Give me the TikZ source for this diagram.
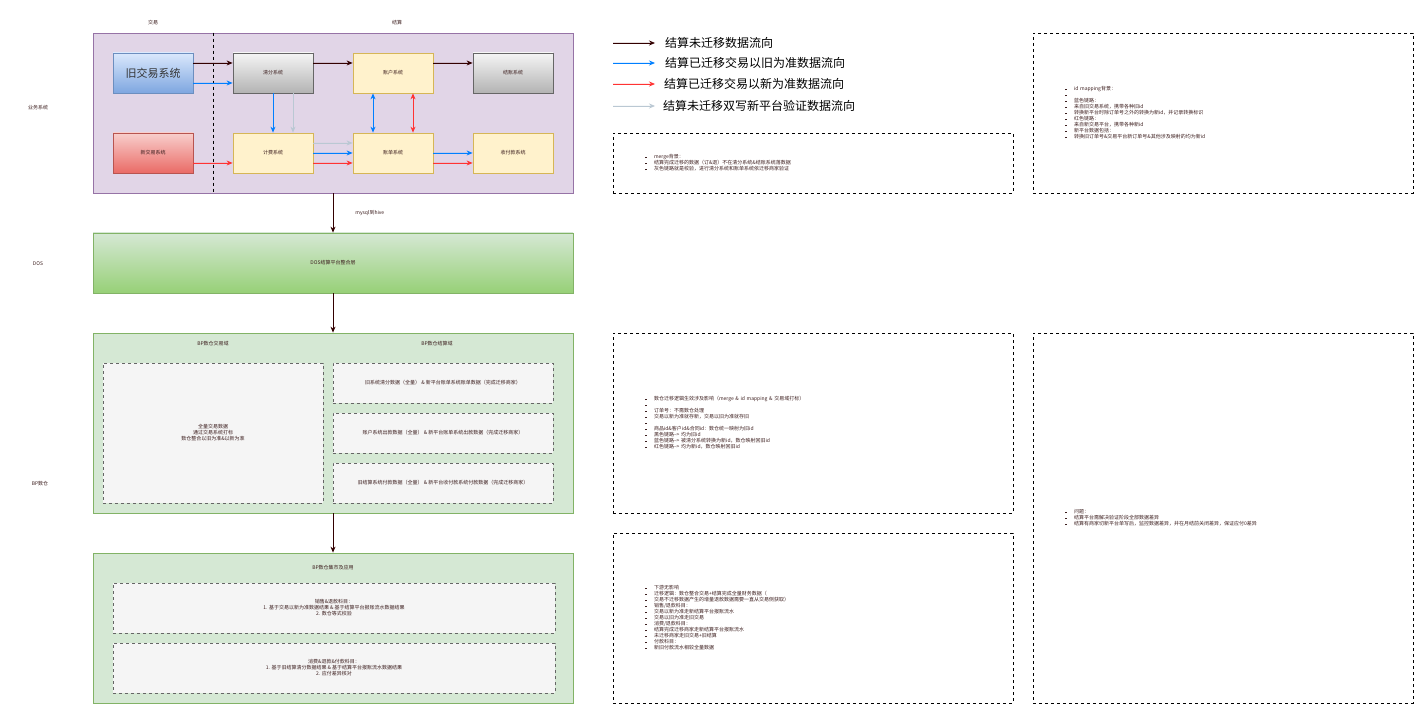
\documentclass[tikz,border=0pt]{standalone}
\usepackage{fontspec}
\setmainfont{Noto Sans CJK SC}
\usepackage{xcolor}
\usepackage{tikz}
\usetikzlibrary{arrows.meta,positioning}
\definecolor{bizFill}{HTML}{E1D5E7}
\definecolor{bizLine}{HTML}{9673A6}
\definecolor{oldTop}{HTML}{DAE8FC}
\definecolor{oldBot}{HTML}{7EA6E0}
\definecolor{oldLine}{HTML}{6C8EBF}
\definecolor{newTop}{HTML}{F8CECC}
\definecolor{newBot}{HTML}{EA6B66}
\definecolor{newLine}{HTML}{B85450}
\definecolor{grayTop}{HTML}{F5F5F5}
\definecolor{grayBot}{HTML}{B3B3B3}
\definecolor{grayLine}{HTML}{666666}
\definecolor{sysFill}{HTML}{FFF2CC}
\definecolor{sysLine}{HTML}{D6B656}
\definecolor{dosBot}{HTML}{97D077}
\definecolor{bpFill}{HTML}{D5E8D4}
\definecolor{bpLine}{HTML}{82B366}
\definecolor{dashFill}{HTML}{F5F5F5}
\definecolor{flowBlack}{HTML}{330000}
\definecolor{flowBlue}{HTML}{007FFF}
\definecolor{flowRed}{HTML}{FF3333}
\definecolor{flowGray}{HTML}{BAC8D3}
\definecolor{txtDark}{RGB}{60,30,30}
\newcommand{\tinyfont}{\fontsize{5}{6}\selectfont}
\newcommand{\itm}[1]{\rule[0.7pt]{1.5pt}{1.5pt}\hspace{7.5pt}#1}
\tikzset{
  sysbox/.style={draw, line width=0.8pt, minimum width=80pt, minimum height=40pt, inner sep=0pt, font=\tinyfont, text=txtDark},
  oldsys/.style={sysbox, draw=oldLine, top color=oldTop, bottom color=oldBot},
  newsys/.style={sysbox, draw=newLine, top color=newTop, bottom color=newBot},
  graysys/.style={sysbox, draw=grayLine, top color=grayTop, bottom color=grayBot},
  yellowsys/.style={sysbox, draw=sysLine, fill=sysFill},
  dashbox/.style={draw=grayLine, dashed, fill=dashFill, line width=0.7pt, inner sep=0pt, align=center, font=\tinyfont, text=txtDark},
  notebox/.style={draw=black, dashed, line width=0.6pt, inner xsep=32pt, inner ysep=0pt, align=left, font=\tinyfont, text=txtDark},
  lbl/.style={font=\tinyfont, text=txtDark, inner sep=0pt},
  flowblack/.style={->, line width=0.8pt, draw=flowBlack, fill=flowBlack},
  flowblue/.style={->, line width=0.8pt, draw=flowBlue, fill=flowBlue},
  flowred/.style={->, line width=0.8pt, draw=flowRed, fill=flowRed},
  flowgray/.style={->, line width=0.8pt, draw=flowGray, fill=flowGray},
  legtext/.style={anchor=west, font=\fontsize{12}{14}\selectfont, inner sep=0pt}
}

\begin{document}
\begin{tikzpicture}[x=1pt,y=-1pt,>={Stealth[length=6pt,width=5pt]}]
    \useasboundingbox (0,0) rectangle (1421,711);

    % lane labels
    \node[lbl] (lanebiz) at (38,108) {业务系统};
    \node[lbl] (lanedos) at (38,264) {DOS};
    \node[lbl] (lanebp) at (40,484) {BP数仓};
    \node[lbl] (coltrade) at (153,23) {交易};
    \node[lbl] (colsettle) at (397,23) {结算};

    % business systems
    \node[draw=bizLine, fill=bizFill, line width=0.8pt, minimum width=480pt, minimum height=160pt, inner sep=0pt] (biz) at (333,113) {};
    \draw[dashed, line width=0.7pt] ([xshift=-120pt]biz.north) -- ([xshift=-120pt]biz.south);

    \node[oldsys, font=\fontsize{11}{13}\selectfont, text=black!80] (oldtrade) at (153,73) {旧交易系统};
    \node[newsys] (newtrade) at (153,153) {新交易系统};
    \node[graysys] (clearing) at (273,73) {清分系统};
    \node[yellowsys] (billing) at (273,153) {计费系统};
    \node[yellowsys] (account) at (393,73) {账户系统};
    \node[yellowsys] (statement) at (393,153) {账单系统};
    \node[graysys] (settle) at (513,73) {结账系统};
    \node[yellowsys] (payment) at (513,153) {收付款系统};

    % flows
    \draw[flowblack] ([yshift=10pt]oldtrade.east) -- ([yshift=10pt]clearing.west);
    \draw[flowblue] ([yshift=-10pt]oldtrade.east) -- ([yshift=-10pt]clearing.west);
    \draw[flowred] ([yshift=-10pt]newtrade.east) -- ([yshift=-10pt]billing.west);
    \draw[flowblue] (clearing.south) -- (billing.north);
    \draw[flowgray] ([xshift=20pt]clearing.south) -- ([xshift=20pt]billing.north);
    \draw[flowblack] ([yshift=10pt]clearing.east) -- ([yshift=10pt]account.west);
    \draw[flowblack] ([yshift=10pt]account.east) -- ([yshift=10pt]settle.west);
    \draw[flowgray] ([yshift=10pt]billing.east) -- ([yshift=10pt]statement.west);
    \draw[flowblue] (billing.east) -- (statement.west);
    \draw[flowred] ([yshift=-10pt]billing.east) -- ([yshift=-10pt]statement.west);
    \draw[flowblue, <->] ([xshift=-20pt]account.south) -- ([xshift=-20pt]statement.north);
    \draw[flowred, <->] ([xshift=20pt]account.south) -- ([xshift=20pt]statement.north);
    \draw[flowblue] (statement.east) -- (payment.west);
    \draw[flowred] ([yshift=-10pt]statement.east) -- ([yshift=-10pt]payment.west);

    % DOS
    \node[draw=bpLine, top color=bpFill, bottom color=dosBot, line width=0.8pt, minimum width=480pt, minimum height=60pt, inner sep=0pt, font=\tinyfont, text=txtDark] (dos) at (333,263) {DOS结算平台整合层};
    \draw[flowblack] (biz.south) -- (dos.north) node[midway, right=22pt, lbl] (sync) {mysql到hive};

    % BP warehouse
    \node[draw=bpLine, fill=bpFill, line width=0.8pt, minimum width=480pt, minimum height=180pt, inner sep=0pt] (bp) at (333,423) {};
    \draw[flowblack] (dos.south) -- (bp.north);
    \node[lbl] (bptrade) at (213,344) {BP数仓交易域};
    \node[lbl] (bpsettle) at (437,344) {BP数仓结算域};
    \node[dashbox, minimum width=220pt, minimum height=140pt] (tradedata) at (213,433) {全量交易数据\\通过交易系统打标\\数仓整合以旧为准\&以新为准};
    \node[dashbox, minimum width=220pt, minimum height=40pt] (cleardata) at (443,383) {旧系统清分数据（全量） \& 新平台账单系统账单数据（完成迁移商家）};
    \node[dashbox, minimum width=220pt, minimum height=40pt] (outdata) at (443,433) {账户系统出款数据（全量） \& 新平台账单系统出款数据（完成迁移商家）};
    \node[dashbox, minimum width=220pt, minimum height=40pt] (paydata) at (443,483) {旧结算系统付款数据（全量） \& 新平台收付款系统付款数据（完成迁移商家）};

    % BP mart
    \node[draw=bpLine, fill=bpFill, line width=0.8pt, minimum width=480pt, minimum height=150pt, inner sep=0pt] (app) at (333,628) {};
    \draw[flowblack] (bp.south) -- (app.north);
    \node[lbl] (apptitle) at (333,568) {BP数仓集市及应用};
    \node[dashbox, minimum width=442pt, minimum height=50pt] (sales) at (334,608) {销售\&退款科目：\\1. 基于交易以新为准数据结果 \& 基于结算平台报账流水数据结果\\2. 数仓等式校验};
    \node[dashbox, minimum width=442pt, minimum height=50pt] (consume) at (334,668) {消费\&退款\&付款科目：\\1. 基于旧结算清分数据结果 \& 基于结算平台报账流水数据结果\\2. 应付差异核对};

    % legend
    \coordinate (l1s) at (613,43); \coordinate (l1e) at (655,43);
    \coordinate (l2s) at (613,63); \coordinate (l2e) at (655,63);
    \coordinate (l3s) at (613,84); \coordinate (l3e) at (655,84);
    \coordinate (l4s) at (613,106); \coordinate (l4e) at (655,106);
    \draw[flowblack] (l1s) -- (l1e);
    \draw[flowblue] (l2s) -- (l2e);
    \draw[flowred] (l3s) -- (l3e);
    \draw[flowgray] (l4s) -- (l4e);
    \node[legtext] (leg1) at (665,43) {结算未迁移数据流向};
    \node[legtext] (leg2) at (665,63) {结算已迁移交易以旧为准数据流向};
    \node[legtext] (leg3) at (664,84) {结算已迁移交易以新为准数据流向};
    \node[legtext] (leg4) at (663,106) {结算未迁移双写新平台验证数据流向};

    % notes
    \node[notebox, minimum width=400pt, minimum height=60pt, text width=336pt] (merge) at (813,163) {%
      \itm{merge背景：}\\
      \itm{结算完成迁移的数据（订\&退）不在清分系统\&结账系统落数据}\\
      \itm{灰色链路就是校验，进行清分系统和账单系统依迁移商家验证}};
    \node[notebox, minimum width=380pt, minimum height=160pt, text width=316pt] (idmap) at (1223,113) {%
      \itm{id mapping背景：}\\
      \itm{}\\
      \itm{蓝色链路：}\\
      \itm{来自旧交易系统，携带各种旧id}\\
      \itm{转换新平台时除订单号之外的转换为新id，并记录转换标识}\\
      \itm{红色链路：}\\
      \itm{来自新交易平台，携带各种新id}\\
      \itm{新平台数据包括：}\\
      \itm{转换旧订单号\&交易平台新订单号\&其他涉及映射的均为新id}};
    \node[notebox, minimum width=400pt, minimum height=180pt, text width=336pt] (effect) at (813,423) {%
      \itm{数仓迁移逻辑生效涉及影响（merge \& id mapping \& 交易域打标）}\\
      \itm{}\\
      \itm{订单号：不需数仓处理}\\
      \itm{交易以新为准就存新，交易以旧为准就存旧}\\
      \itm{}\\
      \itm{商品id\&客户id\&合同id：数仓统一映射为旧id}\\
      \itm{黑色链路--> 均为旧id}\\
      \itm{蓝色链路--> 被清分系统转换为新id，数仓映射回旧id}\\
      \itm{红色链路--> 均为新id，数仓映射回旧id}};
    \node[notebox, minimum width=400pt, minimum height=170pt, text width=336pt] (downstream) at (813,618) {%
      \itm{下游无影响}\\
      \itm{迁移逻辑：数仓整合交易+结算完成全量财务数据（}\\
      \itm{交易不迁移数据产生的增量退款数据需要一直从交易侧获取）}\\
      \itm{销售/退款科目：}\\
      \itm{交易以新为准走新结算平台报账流水}\\
      \itm{交易以旧为准走旧交易}\\
      \itm{消费/退款科目：}\\
      \itm{结算完成迁移商家走新结算平台报账流水}\\
      \itm{未迁移商家走旧交易+旧结算}\\
      \itm{付款科目：}\\
      \itm{新旧付款流水相较全量数据}};
    \node[notebox, minimum width=380pt, minimum height=370pt, text width=316pt] (issue) at (1223,518) {%
      \itm{问题：}\\
      \itm{结算平台需解决验证阶段全部数据差异}\\
      \itm{结算有商家切新平台单写后，监控数据差异，并在月结前关闭差异，保证应付0差异}};
\end{tikzpicture}
\end{document}
